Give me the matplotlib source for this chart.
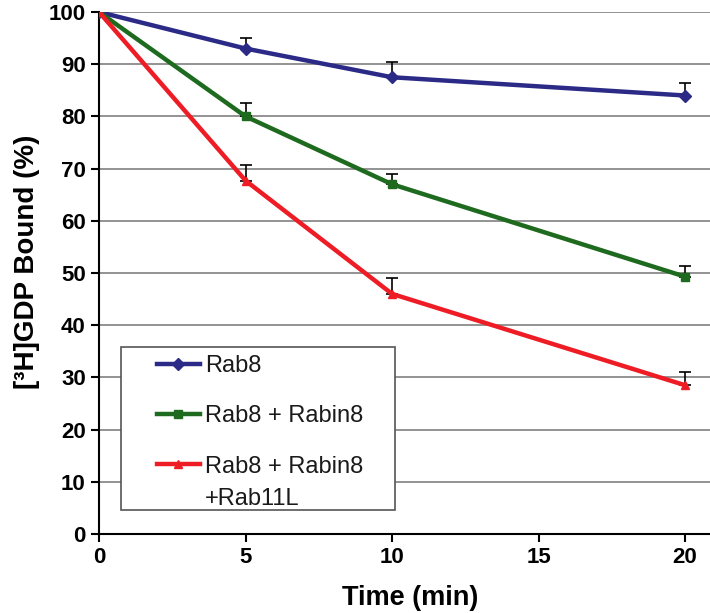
import matplotlib
matplotlib.use("Agg")
import matplotlib.pyplot as plt
from matplotlib.patches import Rectangle

plt.rcParams['font.family'] = ['Liberation Sans', 'DejaVu Sans']

time_min = [0, 5, 10, 20]

rab8 = [100, 93.0, 87.5, 84.0]
rab8_err = [0, 2.0, 3.0, 2.4]

rab8_rabin8 = [100, 80.0, 67.0, 49.3]
rab8_rabin8_err = [0, 2.5, 2.0, 2.0]

rab8_rabin8_rab11l = [100, 67.7, 46.0, 28.5]
rab8_rabin8_rab11l_err = [0, 3.0, 3.0, 2.5]

labels = ["Rab8", "Rab8 + Rabin8", "Rab8 + Rabin8"]
label_extra = "+Rab11L"
colors = ["#2b2a86", "#1e6a1e", "#ee1c24"]
markers = ["D", "s", "^"]

W, H = 710, 613
fig = plt.figure(figsize=(W / 100, H / 100), dpi=100)
ax = fig.add_axes([99 / W, 1 - 534 / H, 1 - 99 / W, (534 - 12) / H])

series = [(rab8, rab8_err), (rab8_rabin8, rab8_rabin8_err),
          (rab8_rabin8_rab11l, rab8_rabin8_rab11l_err)]

for (vals, errs), lab, col, mk in zip(series, labels, colors, markers):
    # only the upper half of each error bar is shown
    ax.errorbar(time_min, vals, yerr=[[0] * len(errs), errs], fmt='none',
                ecolor='black', elinewidth=1.2, capsize=4, capthick=1.2, zorder=2)
    ax.plot(time_min, vals, color=col, lw=3.2, marker=mk, markersize=6,
            label=lab, zorder=3)

ax.set_xlim(0, 20.85)
ax.set_ylim(0, 100)
ax.set_xticks([0, 5, 10, 15, 20])
ax.set_yticks(range(0, 101, 10))
ax.yaxis.grid(True, color='#8a8a8a', lw=1.3)
ax.set_axisbelow(True)
for s in ['top', 'right']:
    ax.spines[s].set_visible(False)
for s in ['left', 'bottom']:
    ax.spines[s].set_linewidth(1.5)
ax.tick_params(direction='out', length=6, width=1.5, labelsize=16)
for t in ax.get_xticklabels() + ax.get_yticklabels():
    t.set_fontweight('bold')

ax.set_xlabel("Time (min)", fontsize=19.5, fontweight='bold')
ax.set_ylabel("[³H]GDP Bound (%)", fontsize=20, fontweight='bold')
ax.xaxis.set_label_coords(0.509, -0.098)
ax.yaxis.set_label_coords(-0.097, 0.521)

# legend frame drawn separately so the box can be sized like the original
ax.add_patch(Rectangle((121 / W, 1 - 510 / H), (395 - 121) / W, (510 - 347) / H,
                       transform=fig.transFigure, facecolor='white',
                       edgecolor='#555555', lw=1.2, zorder=4, clip_on=False))

leg = ax.legend(loc='upper left', bbox_to_anchor=(157 / W, 1 - 355 / H),
                bbox_transform=fig.transFigure, borderaxespad=0, borderpad=0,
                fontsize=17, frameon=False,
                handlelength=1.82, handletextpad=0.21, labelspacing=1.2)
leg.set_zorder(5)
for t in leg.get_texts():
    t.set_color('#1a1a1a')

fig.canvas.draw()
last = leg.get_texts()[-1].get_window_extent()
fig.text(last.x0 / W, (last.y0 - 32) / H, label_extra, fontsize=17,
         ha='left', va='bottom', zorder=6, color='#1a1a1a')

fig.savefig("out.png", dpi=100)
